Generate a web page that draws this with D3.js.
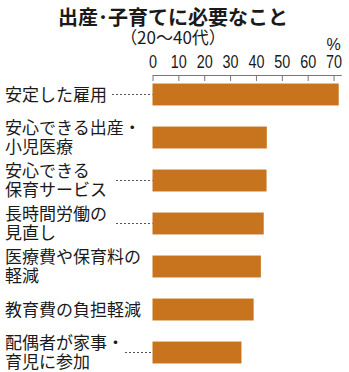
<!DOCTYPE html>
<html>
<head>
<meta charset="utf-8">
<script src="https://cdn.jsdelivr.net/npm/d3@7"></script>
<style>
  html, body { margin: 0; padding: 0; background: #fff; }
  svg { display: block; }
</style>
</head>
<body>
<div id="chart"></div>
<script>
const categories = [
    ['安定した雇用'],
    ['安心できる出産・', '小児医療'],
    ['安心できる', '保育サービス'],
    ['長時間労働の', '見直し'],
    ['医療費や保育料の', '軽減'],
    ['教育費の負担軽減'],
    ['配偶者が家事・', '育児に参加']
];
const values = [72.0, 44.2, 44.1, 43.0, 41.9, 39.1, 34.4];
const leaderFrom = [112, null, 116, 116, null, null, 125];
const tickValues = [0, 10, 20, 30, 40, 50, 60, 70];

const width = 349;
const height = 372;
const barColor = '#c8741f';
const jp = '"Noto Sans CJK JP", "Noto Sans", sans-serif';

const svg = d3
    .select('#chart')
    .append('svg')
    .attr('width', width)
    .attr('height', height);

svg.append('rect').attr('width', width).attr('height', height).attr('fill', '#fff');

// titles
svg.append('text')
    .attr('x', 173)
    .attr('y', 25)
    .attr('text-anchor', 'middle')
    .style('font-family', jp)
    .style('font-weight', 'bold')
    .style('font-size', '20px')
    .attr('fill', '#1a1a1a')
    .text('出産･子育てに必要なこと');

svg.append('text')
    .attr('x', 173)
    .attr('y', 44)
    .attr('text-anchor', 'middle')
    .style('font-family', jp)
    .style('font-size', '17px')
    .attr('fill', '#1a1a1a')
    .text('（20〜40代）');

const x = d3
    .scaleLinear()
    .domain([0, 73])
    .range([152.5, 341.3]);

const y = d3
    .scaleBand()
    .domain(d3.range(categories.length))
    .range([73, 374])
    .paddingInner(0.49)
    .paddingOuter(0.245);

// axis on top, ticks hanging down
const axis = svg
    .append('g')
    .attr('transform', 'translate(0, 75)')
    .call(d3.axisTop(x).tickValues(tickValues).tickSizeInner(-6).tickSizeOuter(0).tickPadding(7));

axis.select('.domain').attr('stroke', '#777');
axis.selectAll('.tick line').attr('stroke', '#777');
axis.selectAll('.tick text')
    .attr('fill', '#1a1a1a')
    .attr('transform', 'scale(0.8,1)')
    .style('font-family', '"Liberation Sans", Arial, sans-serif')
    .style('font-size', '18px');

svg.append('text')
    .attr('x', x(70))
    .attr('y', 50)
    .attr('text-anchor', 'middle')
    .style('font-family', '"Liberation Sans", sans-serif')
    .style('font-size', '16px')
    .attr('fill', '#1a1a1a')
    .text('%');

// bars
svg
    .selectAll('rect.bar')
    .data(values)
    .join('rect')
    .attr('class', 'bar')
    .attr('x', x(0))
    .attr('y', (d, i) => y(i))
    .attr('width', d => x(d) - x(0))
    .attr('height', y.bandwidth())
    .attr('fill', barColor);

// dotted leaders
svg
    .selectAll('line.leader')
    .data(leaderFrom.map((f, i) => ({ f, i })).filter(d => d.f !== null))
    .join('line')
    .attr('class', 'leader')
    .attr('x1', d => d.f)
    .attr('x2', x(0))
    .attr('y1', d => y(d.i) + y.bandwidth() / 2)
    .attr('y2', d => y(d.i) + y.bandwidth() / 2)
    .attr('stroke', '#555')
    .attr('stroke-width', 1)
    .attr('stroke-dasharray', '2,2');

// category labels
const lineH = 19;
const labels = svg
    .selectAll('text.cat')
    .data(categories)
    .join('text')
    .attr('class', 'cat')
    .style('font-family', jp)
    .style('font-size', '17px')
    .attr('fill', '#1a1a1a');

labels.each(function (lines, i) {
    const cy = y(i) + y.bandwidth() / 2;
    const first = cy - (lines.length - 1) * lineH / 2 + 6;
    d3.select(this)
        .selectAll('tspan')
        .data(lines)
        .join('tspan')
        .attr('x', 5)
        .attr('y', (d, j) => first + j * lineH)
        .text(d => d);
});
</script>
</body>
</html>
